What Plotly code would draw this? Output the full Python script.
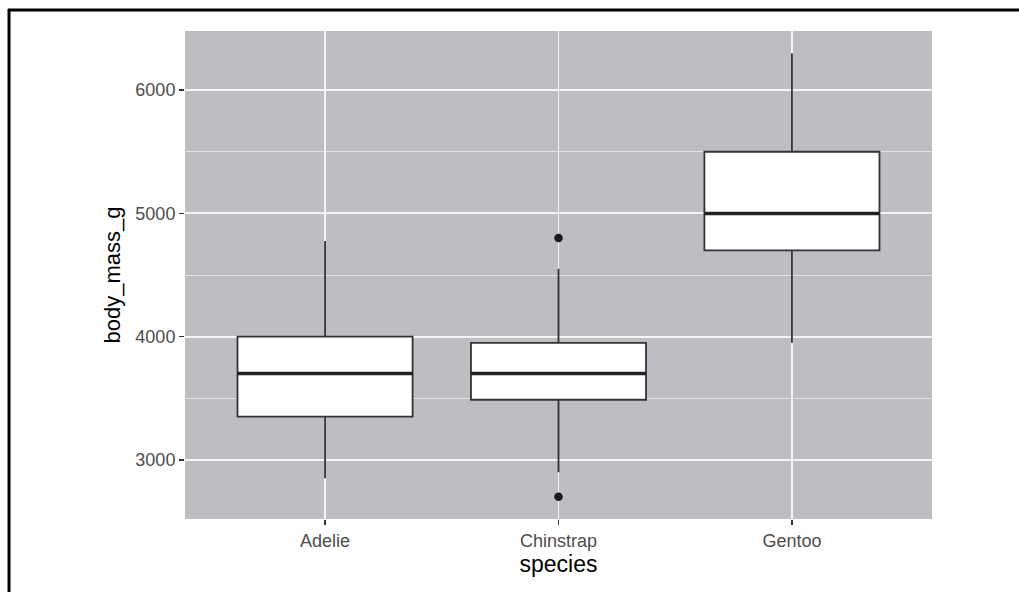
import plotly.graph_objects as go

# ---- data ----
species = ["Adelie", "Chinstrap", "Gentoo"]
q1 = [3350, 3487.5, 4700]
median = [3700, 3700, 5000]
q3 = [4000, 3950, 5500]
lower_whisker = [2850, 2900, 3950]
upper_whisker = [4775, 4550, 6300]
outlier_species = ["Chinstrap", "Chinstrap"]
outlier_values = [2700, 4800]

y_ticks = [3000, 4000, 5000, 6000]

W, H = 1019, 592
ML, MR, MT, MB = 185, 87, 31, 73
BOX_W = 0.75
LINE_C = "#333333"

pos = {s: i + 1 for i, s in enumerate(species)}

fig = go.Figure()
for i, s in enumerate(species):
    fig.add_trace(go.Box(
        x=[pos[s]], q1=[q1[i]], median=[median[i]], q3=[q3[i]],
        lowerfence=[lower_whisker[i]], upperfence=[upper_whisker[i]],
        width=BOX_W, whiskerwidth=0, fillcolor="white",
        line=dict(color=LINE_C, width=1.8), boxpoints=False,
        showlegend=False, hoverinfo="skip",
    ))
    # thicker median line (ggplot fatten)
    fig.add_trace(go.Scatter(
        x=[pos[s] - BOX_W / 2, pos[s] + BOX_W / 2], y=[median[i], median[i]],
        mode="lines", line=dict(color="#222222", width=3.5),
        showlegend=False, hoverinfo="skip",
    ))

fig.add_trace(go.Scatter(
    x=[pos[s] for s in outlier_species], y=outlier_values, mode="markers",
    marker=dict(color="#1a1a1a", size=8.5), showlegend=False, hoverinfo="skip",
))

pw = W - ML - MR
ph = H - MT - MB
def px_to_paper_x(px):
    return (px - ML) / pw
def px_to_paper_y(py):
    return 1 - (py - MT) / ph

# partial frame (top and left) around the figure
fig.add_shape(type="line", xref="paper", yref="paper",
              x0=px_to_paper_x(8), x1=px_to_paper_x(1019),
              y0=px_to_paper_y(10), y1=px_to_paper_y(10),
              line=dict(color="black", width=3))
fig.add_shape(type="line", xref="paper", yref="paper",
              x0=px_to_paper_x(9), x1=px_to_paper_x(9),
              y0=px_to_paper_y(9), y1=px_to_paper_y(592),
              line=dict(color="black", width=3))

font_family = "Liberation Sans, Arial, sans-serif"

fig.update_layout(
    width=W, height=H,
    margin=dict(l=ML, r=MR, t=MT, b=MB),
    paper_bgcolor="white", plot_bgcolor="#BDBEC2",
    font=dict(family=font_family),
    xaxis=dict(
        range=[0.4, 3.6], tickvals=[1, 2, 3], ticktext=species,
        showgrid=True, gridcolor="#F4F4F4", gridwidth=1.8, zeroline=False,
        ticks="outside", ticklen=5, tickwidth=1.5, tickcolor=LINE_C,
        tickfont=dict(size=18, color="#4D4D4D"),
        title=dict(text="species", font=dict(size=23, color="black"), standoff=4),
    ),
    yaxis=dict(
        range=[2520, 6480], tickvals=y_ticks,
        showgrid=True, gridcolor="#F4F4F4", gridwidth=1.8, zeroline=False,
        ticks="outside", ticklen=5, tickwidth=1.5, tickcolor=LINE_C,
        tickfont=dict(size=18, color="#4D4D4D"),
        minor=dict(tickvals=[3500, 4500, 5500], showgrid=True,
                   gridcolor="#E6E6E8", gridwidth=0.9, ticks=""),
        title=dict(text="body_mass_g", font=dict(size=22, color="black"), standoff=8),
    ),
)

fig.write_html(
    "out.html",
    config={"displayModeBar": False, "staticPlot": True},
    post_script="document.body.style.margin='0';document.body.style.overflow='hidden';",
)
